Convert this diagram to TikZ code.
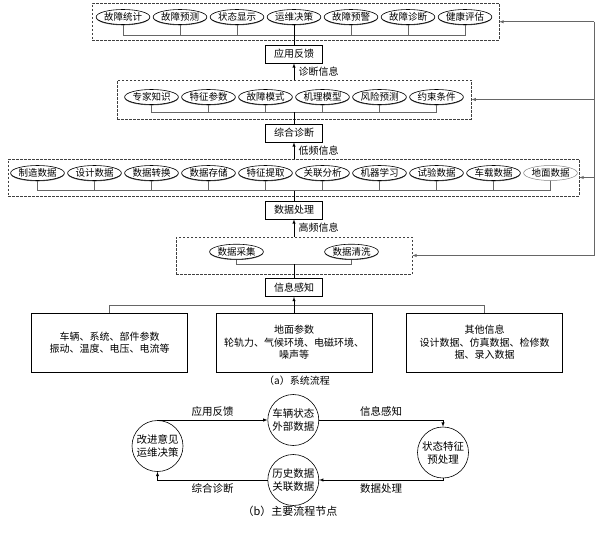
\documentclass[tikz,border=0pt]{standalone}
\usepackage{fontspec}
\setmainfont{Noto Sans CJK SC}
\usetikzlibrary{shapes,arrows,shadows}
\tikzset{>=latex,node distance=57pt,every node/.style={font=\fontsize{10}{12.5}\selectfont},
  item/.style={ellipse,draw,fill=white,line width=0.6pt,inner xsep=0pt,inner ysep=0pt,minimum height=15pt,
    font=\fontsize{9.5}{11}\selectfont,
    drop shadow={shadow xshift=0pt,shadow yshift=-0.8pt,fill=black,opacity=0.7}},
  itemlight/.style={ellipse,draw=black!50,fill=white,line width=0.5pt,inner xsep=0pt,inner ysep=0pt,minimum height=15pt,
    font=\fontsize{9.5}{11}\selectfont},
  group/.style={draw=black!75,dash pattern=on 2.5pt off 1.5pt,line width=0.5pt,inner sep=0pt},
  stage/.style={draw,fill=white,line width=0.7pt,minimum width=57pt,minimum height=18pt,inner sep=0pt},
  source/.style={draw,line width=0.7pt,minimum width=156pt,minimum height=59pt,align=center,inner sep=2pt},
  phase/.style={circle,draw,line width=0.6pt,minimum size=51pt,inner sep=0pt,align=center,font=\fontsize{10.5}{13}\selectfont},
  link/.style={draw=black!60,line width=0.5pt},
  flow/.style={->,line width=0.5pt}}
\begin{document}
\begin{tikzpicture}[x=1pt,y=-1pt]
    \useasboundingbox (0,0) rectangle (612,532);
    % (a) frames
    \node[group,minimum width=407pt,minimum height=36.5pt] (grpT) at (295.5,21.75) {};
    \node[group,minimum width=354pt,minimum height=39pt] (grpS) at (294.2,99.5) {};
    \node[group,minimum width=570.7pt,minimum height=37pt] (grpD) at (293.7,177.5) {};
    \node[group,minimum width=236pt,minimum height=37pt] (grpF) at (294,255.5) {};
    % application row
    \node[item] (t1) at (123,17) {故障统计};
    \node[item] (t2) [right of=t1] {故障预测};
    \node[item] (t3) [right of=t2] {状态显示};
    \node[item] (t4) [right of=t3] {运维决策};
    \node[item] (t5) [right of=t4] {故障预警};
    \node[item] (t6) [right of=t5] {故障诊断};
    \node[item] (t7) [right of=t6] {健康评估};
    % diagnosis row
    \node[item] (s1) at (151.5,97) {专家知识};
    \node[item] (s2) [right of=s1] {特征参数};
    \node[item] (s3) [right of=s2] {故障模式};
    \node[item] (s4) [right of=s3] {机理模型};
    \node[item] (s5) [right of=s4] {风险预测};
    \node[item] (s6) [right of=s5] {约束条件};
    % data row
    \node[item] (d1) at (37.5,173) {制造数据};
    \node[item] (d2) [right of=d1] {设计数据};
    \node[item] (d3) [right of=d2] {数据转换};
    \node[item] (d4) [right of=d3] {数据存储};
    \node[item] (d5) [right of=d4] {特征提取};
    \node[item] (d6) [right of=d5] {关联分析};
    \node[item] (d7) [right of=d6] {机器学习};
    \node[item] (d8) [right of=d7] {试验数据};
    \node[item] (d9) [right of=d8] {车载数据};
    \node[itemlight] (d10) [right of=d9] {地面数据};
    % acquisition row
    \node[item] (f1) at (236.5,251.7) {数据采集};
    \node[item] (f2) at (351.5,251.7) {数据清洗};
    % stages
    \node[stage] (fb) at (294,54) {应用反馈};
    \node[stage] (zd) at (294,133) {综合诊断};
    \node[stage] (sj) at (294,210) {数据处理};
    \node[stage] (gz) at (294,287.5) {信息感知};
    % buses
    \coordinate (busT) at (0,35);
    \coordinate (busS) at (0,112);
    \coordinate (busD) at (0,190.5);
    \coordinate (busF) at (0,264);
    \coordinate (busV) at (0,305);
    \draw[link] (t1.south) |- (t7.south |- busT) -- (t7.south)
    (t2.south) -- (t2.south |- busT) (t3.south) -- (t3.south |- busT)
    (t5.south) -- (t5.south |- busT) (t6.south) -- (t6.south |- busT);
    \draw[line width=0.5pt] (t4.south) -- (fb.north);
    \draw[link] (s1.south) |- (s6.south |- busS) -- (s6.south)
    (s2.south) -- (s2.south |- busS) (s3.south) -- (s3.south |- busS)
    (s4.south) -- (s4.south |- busS) (s5.south) -- (s5.south |- busS);
    \draw[line width=0.5pt] (zd.north |- busS) -- (zd.north);
    \draw[link] (d1.south) |- (d10.south |- busD) -- (d10.south)
    (d2.south) -- (d2.south |- busD) (d3.south) -- (d3.south |- busD)
    (d4.south) -- (d4.south |- busD) (d5.south) -- (d5.south |- busD)
    (d6.south) -- (d6.south |- busD) (d7.south) -- (d7.south |- busD)
    (d8.south) -- (d8.south |- busD) (d9.south) -- (d9.south |- busD);
    \draw[line width=0.5pt] (sj.north |- busD) -- (sj.north);
    \draw[link] (f1.south) |- (f2.south |- busF) -- (f2.south);
    \draw[line width=0.5pt] (gz.north |- busF) -- (gz.north);
    % upward flow
    \draw[flow] (fb.south |- grpS.north) -- node[right,xshift=1pt] {诊断信息} (fb.south);
    \draw[flow] (zd.south |- grpD.north) -- node[right,xshift=1pt] {低频信息} (zd.south);
    \draw[flow] (sj.south |- grpF.north) -- node[right,xshift=1pt] {高频信息} (sj.south);
    % sources
    \node[source] (v1) at (109.5,342.5) {车辆、系统、部件参数\\振动、温度、电压、电流等};
    \node[source] (v2) at (294,342.5) {地面参数\\轮轨力、气候环境、电磁环境、\\噪声等};
    \node[source] (v3) at (484.5,342.5) {其他信息\\设计数据、仿真数据、检修数\\据、录入数据};
    \draw[link] (v1.north) |- (v3.north |- busV) -- (v3.north);
    \draw[flow] (v2.north) -- (gz.south);
    % feedback
    \coordinate (rx) at (594,0);
    \draw[link] (grpT.east -| rx) -- (grpF.east -| rx);
    \draw[flow,draw=black!60] (grpT.east -| rx) -- (grpT.east);
    \draw[flow,draw=black!60] (grpS.east -| rx) -- (grpS.east);
    \draw[flow,draw=black!60] (grpD.east -| rx) -- (grpD.east);
    \draw[flow,draw=black!60] (grpF.east -| rx) -- (grpF.east);
    \node (capA) at (297,381) {（a）系统流程};
    % (b)
    \node[phase] (pc) at (293.3,420) {车辆状态\\外部数据};
    \node[phase] (pl) at (157.5,446) {改进意见\\运维决策};
    \node[phase] (pr) at (443,452.5) {状态特征\\预处理};
    \node[phase] (ph) at (293.3,480) {历史数据\\关联数据};
    \draw[flow] (pl.north) |- node[above,pos=0.75,font=\fontsize{10.5}{12}\selectfont] {应用反馈} (pc.west);
    \draw[flow] (pc.east) -| node[above,pos=0.25,font=\fontsize{10.5}{12}\selectfont] {信息感知} (pr.north);
    \draw[flow] (pr.south) |- node[below,pos=0.75,font=\fontsize{10.5}{12}\selectfont] {数据处理} (ph.east);
    \draw[flow] (ph.west) -| node[below,pos=0.25,font=\fontsize{10.5}{12}\selectfont] {综合诊断} (pl.south);
    \node (capB) at (290,511) [font=\fontsize{11}{13}\selectfont] {（b）主要流程节点};
\end{tikzpicture}
\end{document}
